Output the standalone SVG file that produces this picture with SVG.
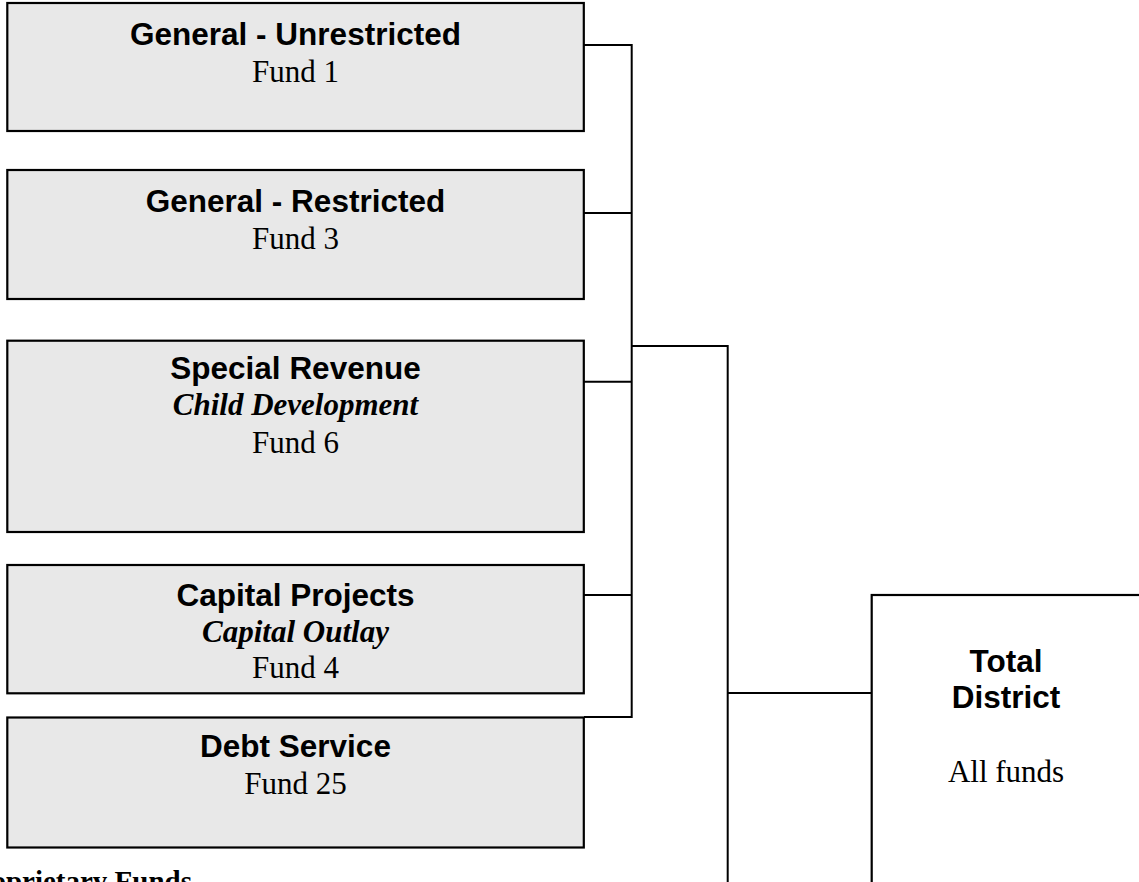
<svg xmlns="http://www.w3.org/2000/svg" width="1139" height="882" viewBox="0 0 1139 882">
<style>
.box{fill:#e8e8e8;stroke:#000;stroke-width:2.2}
.tot{fill:#fff;stroke:#000;stroke-width:2.2}
.h{font-family:"Liberation Sans",Arial,sans-serif;font-weight:bold;font-size:31.5px;fill:#000;text-anchor:middle}
.s{font-family:"Liberation Serif","Times New Roman",serif;font-size:31px;fill:#000;text-anchor:middle}
.i{font-family:"Liberation Serif","Times New Roman",serif;font-size:31px;font-style:italic;font-weight:bold;fill:#000;text-anchor:middle}
.c{fill:none;stroke:#000;stroke-width:2}
</style>
<rect width="1139" height="882" fill="#fff"/>
<g id="connectors">
<path class="c" d="M584 45H631.7V717H584"/>
<path class="c" d="M584 213H631.7"/>
<path class="c" d="M584 381.7H631.7"/>
<path class="c" d="M584 595H631.7"/>
<path class="c" d="M631.7 346H727.7V884"/>
<path class="c" d="M727.7 693H871.7"/>
</g>
<g id="n1">
<rect class="box" x="7.3" y="3" width="576.5" height="128"/>
<text class="h" x="295.5" y="45">General - Unrestricted</text>
<text class="s" x="295.5" y="81.7">Fund 1</text>
</g>
<g id="n2">
<rect class="box" x="7.3" y="170" width="576.5" height="129"/>
<text class="h" x="295.5" y="212">General - Restricted</text>
<text class="s" x="295.5" y="249">Fund 3</text>
</g>
<g id="n3">
<rect class="box" x="7.3" y="340.7" width="576.5" height="191.3"/>
<text class="h" x="295.5" y="379.3">Special Revenue</text>
<text class="i" x="295.5" y="415">Child Development</text>
<text class="s" x="295.5" y="453.3">Fund 6</text>
</g>
<g id="n4">
<rect class="box" x="7.3" y="565" width="576.5" height="128.3"/>
<text class="h" x="295.5" y="606">Capital Projects</text>
<text class="i" x="295.5" y="642">Capital Outlay</text>
<text class="s" x="295.5" y="678">Fund 4</text>
</g>
<g id="n5">
<rect class="box" x="7.3" y="717.5" width="576.5" height="130"/>
<text class="h" x="295.5" y="756.7">Debt Service</text>
<text class="s" x="295.5" y="794">Fund 25</text>
</g>
<g id="total">
<rect class="tot" x="871.7" y="595" width="280" height="300"/>
<text class="h" x="1006" y="671.7">Total</text>
<text class="h" x="1006" y="708">District</text>
<text class="s" x="1006" y="782">All funds</text>
</g>
<text x="192" y="891" font-family="'Liberation Serif','Times New Roman',serif" font-weight="bold" font-size="29px" text-anchor="end">Proprietary Funds</text>
</svg>
